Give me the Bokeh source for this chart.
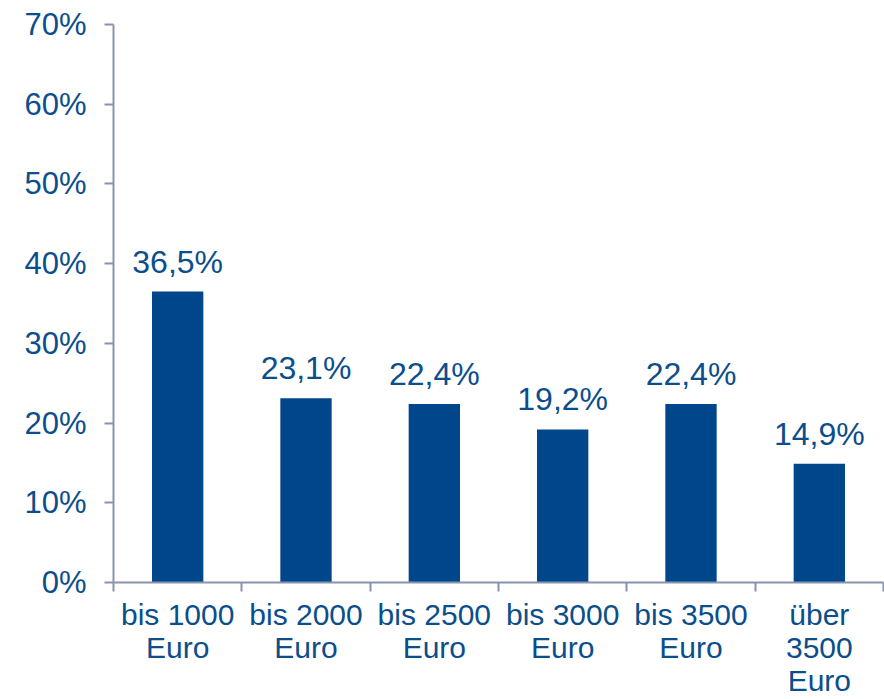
from bokeh.plotting import figure
from bokeh.models import FixedTicker, ColumnDataSource, Range1d
from bokeh.core.properties import value
from bokeh.embed import file_html
from bokeh.resources import INLINE

categories = ["bis 1000\nEuro", "bis 2000\nEuro", "bis 2500\nEuro",
              "bis 3000\nEuro", "bis 3500\nEuro", "über\n3500\nEuro"]
shares = [36.5, 23.1, 22.4, 19.2, 22.4, 14.9]
y_ticks = [0, 10, 20, 30, 40, 50, 60, 70]

BAR = "#00468a"
TXT = "#0b4e8c"
AXIS = "#8794ad"
FONT = "Liberation Sans"

xs = [i + 0.5 for i in range(len(categories))]
labels = [f"{v:.1f}".replace(".", ",") + "%" for v in shares]
src = ColumnDataSource(dict(x=xs, top=shares, label=labels))

p = figure(width=884, height=699, output_backend="svg", toolbar_location=None,
           x_range=Range1d(0, len(categories)), y_range=Range1d(0, 70),
           min_border_left=113, min_border_top=24, min_border_right=1,
           min_border_bottom=117)
p.outline_line_color = None
p.xgrid.visible = False
p.ygrid.visible = False
p.background_fill_color = "white"
p.border_fill_color = "white"

p.vbar(x="x", top="top", width=0.4, bottom=0, source=src, fill_color=BAR, line_color=None)
p.text(x="x", y="top", text="label", source=src, text_align="center",
       text_baseline="alphabetic", y_offset=-30, text_color=TXT,
       text_font=value(FONT), text_font_size="32px")

# y axis
ya = p.yaxis[0]
ya.ticker = FixedTicker(ticks=y_ticks, minor_ticks=[])
ya.major_label_overrides = {t: f"{t}%" for t in y_ticks}
ya.axis_line_color = AXIS
ya.axis_line_width = 2
ya.major_tick_line_color = AXIS
ya.major_tick_line_width = 2
ya.major_tick_out = 9
ya.major_tick_in = 0
ya.minor_tick_line_color = None
ya.major_label_standoff = 18
ya.major_label_text_font = FONT
ya.major_label_text_font_size = "31px"
ya.major_label_text_color = TXT

# x axis
xa = p.xaxis[0]
xa.ticker = FixedTicker(ticks=xs, minor_ticks=list(range(len(categories) + 1)))
xa.major_label_overrides = {x: c for x, c in zip(xs, categories)}
xa.axis_line_color = AXIS
xa.axis_line_width = 2
xa.major_tick_line_color = None
xa.major_tick_out = 0
xa.major_tick_in = 0
xa.minor_tick_line_color = AXIS
xa.minor_tick_line_width = 2
xa.minor_tick_out = 9
xa.minor_tick_in = 0
xa.major_label_standoff = 6
xa.major_label_text_font = FONT
xa.major_label_text_font_size = "30px"
xa.major_label_text_color = TXT
xa.major_label_text_line_height = 1.0

open("out.html", "w").write(file_html(p, INLINE))
